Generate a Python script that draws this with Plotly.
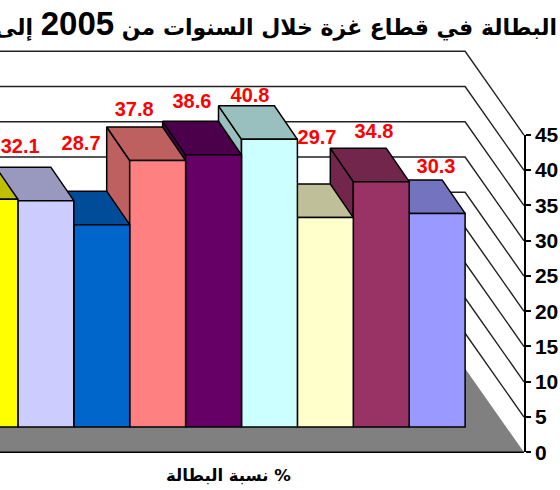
import plotly.graph_objects as go

# ---- data ----
values = [32.3, 32.1, 28.7, 37.8, 38.6, 40.8, 29.7, 34.8, 30.3]
bar_colors = ["#FFFF00", "#CCCCFF", "#0066CC", "#FF8080", "#660066",
              "#CCFFFF", "#FFFFCC", "#993366", "#9999FF"]
label_shift_x = [0.0, -0.46, -0.37, -0.42, -0.386, -0.348, -0.149, -0.13, -0.02]
label_shift_y = [6.0, 7.47, 11.3, 7.02, 7.36, 6.0, 11.15, 6.9, 6.44]
show_label = [False, True, True, True, True, True, True, True, True]
tick_values = [0, 5, 10, 15, 20, 25, 30, 35, 40, 45]

title_text = ("البطالة في قطاع غزة خلال السنوات من "
              "<span style='font-size:33px;font-family:Liberation Sans'>2005</span> إلى")
axis_title = "نسبة البطالة %"

# ---- projection (oblique 3-D look) expressed in axis units ----
W, H = 560, 490
PX_X = 55.9            # pixels per bar
PX_Y = 7.05            # pixels per percentage point
X0_PX = -38.0          # page x of left edge of the first bar
Y0_PX = 427.0          # page y of the bars' base
x_range = [(0 - X0_PX) / PX_X, (W - X0_PX) / PX_X]
y_range = [(Y0_PX - H) / PX_Y, (Y0_PX - 0) / PX_Y]

bar_dx, bar_dy = -23 / PX_X, 33.5 / PX_Y       # depth of a bar
n = len(values)
wall_x = float(n)                               # right end of the back wall
wall_y0 = (Y0_PX - 368.5) / PX_Y                # zero on the back wall
side_x = (524 - X0_PX) / PX_X                   # front right corner (value axis)
side_y0 = (Y0_PX - 452.3) / PX_Y                # zero on the value axis
far_left = x_range[0] - 1


def shade(hex_color, f=0.75):
    r, g, b = (int(hex_color[i:i + 2], 16) for i in (1, 3, 5))
    return "#%02X%02X%02X" % (round(r * f), round(g * f), round(b * f))


def poly(xs, ys, fill, line_w=1.5, line_color="#000000"):
    return go.Scatter(
        x=xs + xs[:1], y=ys + ys[:1], mode="lines", fill="toself",
        fillcolor=fill, line=dict(color=line_color, width=line_w),
        hoverinfo="skip", showlegend=False,
    )


fig = go.Figure()

# floor
fig.add_trace(poly([far_left, side_x, wall_x, far_left],
                   [side_y0, side_y0, wall_y0, wall_y0],
                   "#808080", 0, "#808080"))
fig.add_trace(go.Scatter(x=[far_left, side_x], y=[side_y0, side_y0], mode="lines",
                         line=dict(color="#000000", width=1.5),
                         hoverinfo="skip", showlegend=False))

# gridlines on back wall and side wall
for t in tick_values[1:]:
    fig.add_trace(go.Scatter(
        x=[far_left, wall_x, side_x],
        y=[wall_y0 + t, wall_y0 + t, side_y0 + t],
        mode="lines", line=dict(color="#222222", width=1.4),
        hoverinfo="skip", showlegend=False))

# bars, painted from the right so nearer-left fronts cover what they hide
for i in range(n - 1, -1, -1):
    v, c = values[i], bar_colors[i]
    dark = shade(c)
    # left side face
    fig.add_trace(poly([i, i, i + bar_dx, i + bar_dx],
                       [0, v, v + bar_dy, bar_dy], dark))
    # top face
    fig.add_trace(poly([i, i + 1, i + 1 + bar_dx, i + bar_dx],
                       [v, v, v + bar_dy, v + bar_dy], dark))
    # front face
    fig.add_trace(poly([i, i + 1, i + 1, i], [0, 0, v, v], c))

# data labels
lab_x = [i + 0.5 + label_shift_x[i] for i in range(n) if show_label[i]]
lab_y = [values[i] + label_shift_y[i] for i in range(n) if show_label[i]]
lab_t = ["%.1f" % values[i] for i in range(n) if show_label[i]]
fig.add_trace(go.Scatter(
    x=lab_x, y=lab_y, text=lab_t, mode="text", textposition="middle center",
    textfont=dict(family="Liberation Sans, Arial, sans-serif", size=20,
                  color="#FF0000", weight="bold"),
    hoverinfo="skip", showlegend=False, cliponaxis=False))

# the value axis lives on its own subplot so its line spans 0-45 only
fig.add_trace(go.Scatter(x=[0] * len(tick_values), y=tick_values, mode="none",
                         xaxis="x2", yaxis="y2", hoverinfo="skip", showlegend=False))

fig.update_layout(
    width=W, height=H, autosize=False,
    margin=dict(l=0, r=0, t=0, b=0, pad=0, autoexpand=False),
    paper_bgcolor="#FFFFFF", plot_bgcolor="rgba(0,0,0,0)",
    showlegend=False, hovermode=False,
    title=dict(
        text=title_text, x=276 / W, xanchor="center", xref="paper",
        y=1 - 27 / H, yanchor="middle", yref="container",
        font=dict(family="DejaVu Sans, sans-serif", size=22,
                  color="#000000", weight="bold"),
    ),
    xaxis=dict(range=x_range, domain=[0, 1], visible=False, fixedrange=True),
    yaxis=dict(range=y_range, domain=[0, 1], visible=False, fixedrange=True),
    xaxis2=dict(domain=[0, 524 / W], range=[0, 1], visible=False, anchor="y2", fixedrange=True),
    yaxis2=dict(
        domain=[(H - 452.3) / H, (H - 134.8) / H], range=[0, 45], anchor="x2",
        side="right", tickvals=tick_values, ticks="outside", ticklen=5,
        tickwidth=1.5, tickcolor="#000000", showline=True, linecolor="#000000",
        linewidth=1.5, showgrid=False, zeroline=False, fixedrange=True,
        tickfont=dict(family="Liberation Sans, Arial, sans-serif", size=21,
                      color="#000000", weight="bold"),
    ),
    annotations=[dict(
        text=axis_title, x=228 / W, y=1 - 475 / H, xref="paper", yref="paper",
        xanchor="center", yanchor="middle", showarrow=False,
        font=dict(family="DejaVu Sans, sans-serif", size=16.5,
                  color="#000000", weight="bold"),
    )],
)

fig.write_html("out.html", config=dict(displayModeBar=False),
               post_script="document.body.style.margin='0';document.body.style.overflow='hidden';")
